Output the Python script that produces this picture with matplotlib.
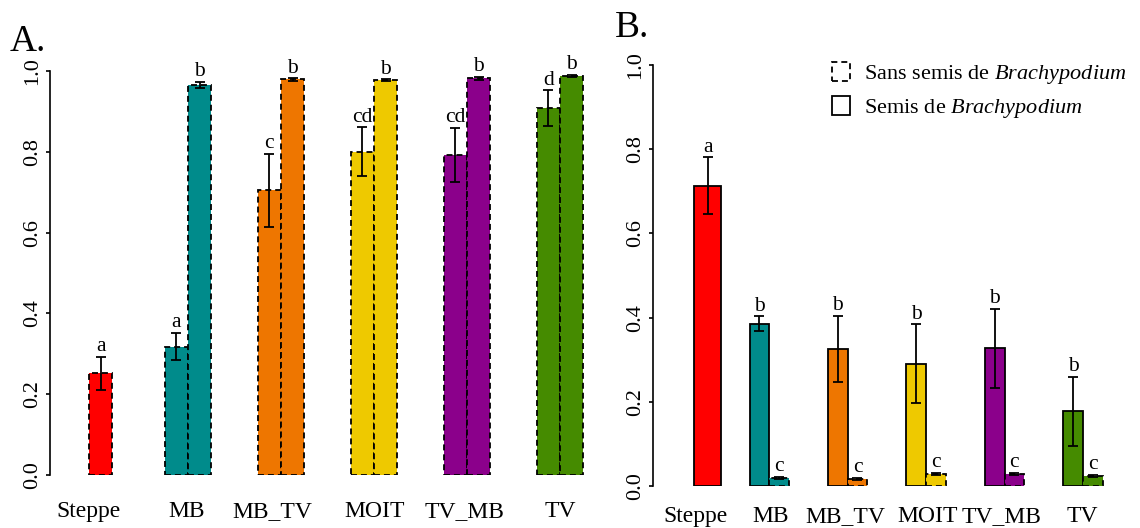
import matplotlib
matplotlib.use("Agg")
import matplotlib.pyplot as plt
from matplotlib.patches import Patch

plt.rcParams['font.family'] = ['Liberation Serif', 'DejaVu Serif']
plt.rcParams['mathtext.fontset'] = 'custom'
plt.rcParams['mathtext.rm'] = 'Liberation Serif'
plt.rcParams['mathtext.it'] = 'Liberation Serif:italic'

# data
groups = ['Steppe', 'MB', 'MB_TV', 'MOIT', 'TV_MB', 'TV']
colors = ['#FF0000', '#008B8B', '#EE7600', '#EEC900', '#8B008B', '#458B00']
yticks = [0.0, 0.2, 0.4, 0.6, 0.8, 1.0]

# panel A
a_first = [0.252, 0.318, 0.705, 0.800, 0.792, 0.908]
a_first_err = [0.041, 0.034, 0.090, 0.061, 0.067, 0.044]
a_first_letters = ['a', 'a', 'c', 'cd', 'cd', 'd']
a_second = [None, 0.965, 0.979, 0.977, 0.982, 0.988]
a_second_err = [None, 0.008, 0.003, 0.002, 0.004, 0.002]
a_second_letters = ['', 'b', 'b', 'b', 'b', 'b']

# panel B
b_semis = [0.713, 0.385, 0.325, 0.290, 0.327, 0.177]
b_semis_err = [0.068, 0.018, 0.079, 0.094, 0.094, 0.083]
b_semis_letters = ['a', 'b', 'b', 'b', 'b', 'b']
b_sans = [None, 0.019, 0.017, 0.028, 0.028, 0.024]
b_sans_err = [None, 0.003, 0.002, 0.003, 0.003, 0.003]
b_sans_letters = ['', 'c', 'c', 'c', 'c', 'c']

DASH = (0, (3.3, 2.2))
FS = 16


def letter(ax, x, y, s):
    ax.annotate(s, (x, y), xytext=(0, 4), textcoords='offset points',
                ha='center', va='baseline', fontsize=15.5, annotation_clip=False)


def style_axes(ax, xlim, label_pos, pad):
    ax.set_xlim(*xlim)
    ax.set_ylim(0, 1)
    for s in ['top', 'right', 'bottom']:
        ax.spines[s].set_visible(False)
    ax.spines['left'].set_bounds(0, 1)
    ax.spines['left'].set_linewidth(1.2)
    ax.set_yticks(yticks)
    ax.set_yticklabels([f"{v:.1f}" for v in yticks], rotation=90, va='center')
    ax.tick_params(axis='y', length=3, width=1.2, pad=3, labelsize=FS)
    ax.set_xticks(label_pos)
    ax.set_xticklabels(groups)
    ax.tick_params(axis='x', length=0, pad=pad, labelsize=17)


fig = plt.figure(figsize=(11.4, 5.28), dpi=100)

# ---- A ----
axA = fig.add_axes([50 / 1140, 53 / 528, 550 / 1140, 404 / 528])
centers_a = [0.237, 4, 8, 12, 16, 20]
for i, c in enumerate(centers_a):
    if a_second[i] is None:
        xs = [c]
    else:
        xs = [c - 0.5, c + 0.5]
    vals = [a_first[i], a_second[i]]
    errs = [a_first_err[i], a_second_err[i]]
    lets = [a_first_letters[i], a_second_letters[i]]
    for j, x in enumerate(xs):
        axA.bar(x, vals[j], width=1, color=colors[i], edgecolor='black',
                linewidth=1.3, linestyle=DASH)
        axA.errorbar(x, vals[j], yerr=errs[j], fmt='none', ecolor='black',
                     elinewidth=1.3, capsize=3.7, capthick=1.3)
        letter(axA, x, vals[j] + errs[j], lets[j])
style_axes(axA, (-1.935, 21.72), [-0.26, 3.96, 7.61, 12.04, 15.91, 20.0], 18.5)
fig.text(10 / 1140, 1 - 51 / 528, 'A.', fontsize=27, ha='left', va='baseline')

# ---- B ----
axB = fig.add_axes([653 / 1140, 42 / 528, 467 / 1140, 421 / 528])
centers_b = [0.85, 4, 8, 12, 16, 20]
for i, c in enumerate(centers_b):
    if b_sans[i] is None:
        axB.bar(c, b_semis[i], width=1.38, color=colors[i], edgecolor='black',
                linewidth=1.3)
        axB.errorbar(c, b_semis[i], yerr=b_semis_err[i], fmt='none', ecolor='black',
                     elinewidth=1.3, capsize=3.7, capthick=1.3)
        letter(axB, c, b_semis[i] + b_semis_err[i], b_semis_letters[i])
        continue
    axB.bar(c - 0.5, b_semis[i], width=1, color=colors[i], edgecolor='black',
            linewidth=1.3)
    axB.errorbar(c - 0.5, b_semis[i], yerr=b_semis_err[i], fmt='none', ecolor='black',
                 elinewidth=1.3, capsize=3.7, capthick=1.3)
    letter(axB, c - 0.5, b_semis[i] + b_semis_err[i], b_semis_letters[i])
    axB.bar(c + 0.5, b_sans[i], width=1, color=colors[i], edgecolor='black',
            linewidth=1.3, linestyle=DASH)
    axB.errorbar(c + 0.5, b_sans[i], yerr=b_sans_err[i], fmt='none', ecolor='black',
                 elinewidth=1.3, capsize=3.7, capthick=1.3)
    letter(axB, c + 0.5, b_sans[i] + b_sans_err[i], b_sans_letters[i])
style_axes(axB, (-1.93, 21.89), [0.26, 4.09, 7.9, 12.09, 15.87, 19.95], 14.5)
fig.text(615 / 1140, 1 - 37 / 528, 'B.', fontsize=27, ha='left', va='baseline')

handles = [Patch(facecolor='white', edgecolor='black', linewidth=1.3, linestyle=DASH),
           Patch(facecolor='white', edgecolor='black', linewidth=1.3)]
labels = [r'Sans semis de $\mathit{Brachypodium}$', r'Semis de $\mathit{Brachypodium}$']
fig.legend(handles, labels, loc='upper left', bbox_to_anchor=(832 / 1140, 1 - 62 / 528),
           frameon=False, fontsize=FS, handlelength=0.8, handleheight=0.95,
           handletextpad=0.65, labelspacing=0.45, borderpad=0, borderaxespad=0)

fig.savefig('out.png', dpi=100)
